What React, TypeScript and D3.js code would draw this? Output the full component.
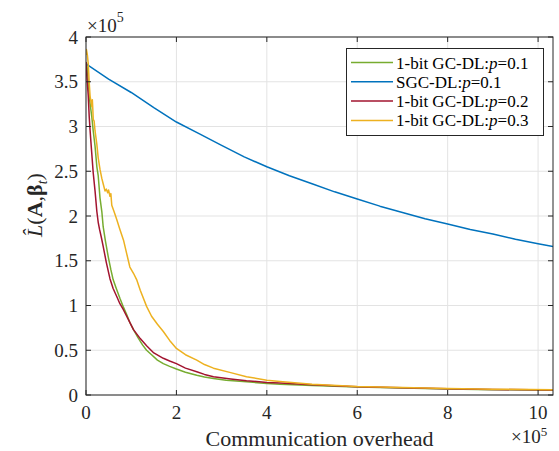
import React from "react";
import * as d3 from "d3";

// x in units of 1e5, y in units of 1e5
const xTicks = [0, 2, 4, 6, 8, 10];
const yTicks = [0, 0.5, 1, 1.5, 2, 2.5, 3, 3.5, 4];
const yTickLabels = ["0", "0.5", "1", "1.5", "2", "2.5", "3", "3.5", "4"];

const seriesNames = ["1-bit GC-DL:", "SGC-DL:", "1-bit GC-DL:", "1-bit GC-DL:"];
const seriesP = ["0.1", "0.1", "0.2", "0.3"];
const seriesColors = ["#77AC30", "#0072BD", "#A2142F", "#EDB120"];

const green: [number, number][] = [
  [0, 3.72], [0.02, 3.7], [0.05, 3.5], [0.08, 3.3], [0.1, 3.22], [0.13, 3.1], [0.16, 2.95], [0.2, 2.78],
  [0.24, 2.55], [0.27, 2.45], [0.31, 2.2], [0.35, 2.05], [0.38, 1.88], [0.43, 1.72], [0.49, 1.55],
  [0.55, 1.4], [0.6, 1.29], [0.67, 1.19], [0.75, 1.08], [0.82, 0.99], [0.9, 0.9], [0.97, 0.81],
  [1.05, 0.73], [1.15, 0.64], [1.25, 0.56], [1.34, 0.5], [1.45, 0.45], [1.58, 0.39], [1.71, 0.35],
  [1.85, 0.32], [2.0, 0.29], [2.2, 0.255], [2.45, 0.22], [2.62, 0.2], [2.82, 0.185], [3.1, 0.165],
  [3.55, 0.148], [4.0, 0.128], [4.29, 0.12], [5, 0.105], [6, 0.088], [7, 0.077], [8, 0.068],
  [9, 0.06], [10.33, 0.052],
];

const blue: [number, number][] = [
  [0, 3.7], [0.5, 3.53], [1, 3.38], [1.5, 3.21], [2, 3.05], [2.5, 2.92], [3, 2.79], [3.5, 2.66],
  [4, 2.55], [4.5, 2.45], [5, 2.36], [5.5, 2.27], [6, 2.19], [6.5, 2.11], [7, 2.04], [7.5, 1.97],
  [8, 1.91], [8.5, 1.85], [9, 1.8], [9.5, 1.74], [10, 1.69], [10.33, 1.66],
];

const red: [number, number][] = [
  [0, 3.72], [0.02, 3.55], [0.05, 3.34], [0.07, 3.12], [0.09, 2.96], [0.12, 2.75], [0.16, 2.48],
  [0.2, 2.28], [0.24, 2.05], [0.27, 1.93], [0.3, 1.85], [0.34, 1.76], [0.38, 1.66], [0.45, 1.48],
  [0.53, 1.3], [0.6, 1.19], [0.68, 1.1], [0.75, 1.02], [0.83, 0.95], [0.93, 0.85], [1.05, 0.73],
  [1.2, 0.63], [1.34, 0.55], [1.5, 0.47], [1.71, 0.41], [1.85, 0.38], [2.0, 0.35], [2.2, 0.3],
  [2.45, 0.26], [2.62, 0.23], [2.82, 0.205], [3.2, 0.18], [3.55, 0.16], [4.0, 0.14], [4.29, 0.135],
  [5, 0.115], [6, 0.092], [7, 0.08], [8, 0.07], [9, 0.062], [10.33, 0.055],
];

const yellow: [number, number][] = [
  [0, 3.8], [0.01, 3.86], [0.03, 3.8], [0.05, 3.7], [0.07, 3.5], [0.09, 3.34], [0.11, 3.28],
  [0.13, 3.22], [0.14, 3.3], [0.15, 3.2], [0.16, 3.08], [0.18, 3.06], [0.2, 2.95], [0.24, 2.8],
  [0.27, 2.65], [0.31, 2.52], [0.35, 2.42], [0.38, 2.36], [0.42, 2.28], [0.45, 2.3], [0.48, 2.26],
  [0.5, 2.29], [0.53, 2.22], [0.55, 2.25], [0.57, 2.12], [0.62, 2.05], [0.68, 1.96], [0.75, 1.85],
  [0.83, 1.73], [0.9, 1.58], [0.97, 1.43], [1.05, 1.36], [1.12, 1.29], [1.2, 1.17], [1.34, 0.99],
  [1.45, 0.88], [1.58, 0.79], [1.71, 0.71], [1.85, 0.61], [2.0, 0.52], [2.2, 0.45], [2.45, 0.39],
  [2.62, 0.34], [2.82, 0.3], [3.2, 0.25], [3.55, 0.205], [4.0, 0.165], [4.29, 0.15], [5, 0.12],
  [6, 0.095], [7, 0.083], [8, 0.073], [9, 0.065], [10.33, 0.058],
];

const allSeries = [green, blue, red, yellow];

const W = 559;
const H = 451;
const L = 86, R = 553, T = 37, B = 395;
const FONT = "'Liberation Serif', 'Times New Roman', serif";
const AX = "#262626";

export default function App() {
  const x = d3.scaleLinear().domain([0, 10.33]).range([L, R]);
  const y = d3.scaleLinear().domain([0, 4]).range([B, T]);
  const line = d3.line<[number, number]>().x((d) => x(d[0])).y((d) => y(d[1]));
  const tl = 5;

  return (
    <svg width={W} height={H} style={{ position: "absolute", left: 0, top: 0, background: "#fff" }}
      fontFamily={FONT}>
      <rect x={0} y={0} width={W} height={H} fill="#fff" />
      {/* grid */}
      {xTicks.map((t) => (
        <line key={"gx" + t} x1={x(t)} x2={x(t)} y1={T} y2={B} stroke="#e3e3e3" strokeWidth={1} />
      ))}
      {yTicks.map((t) => (
        <line key={"gy" + t} x1={L} x2={R} y1={y(t)} y2={y(t)} stroke="#e3e3e3" strokeWidth={1} />
      ))}
      {/* series */}
      <g clipPath="url(#clip)">
        {allSeries.map((s, i) => (
          <path key={"s" + i} d={line(s) || ""} fill="none" stroke={seriesColors[i]} strokeWidth={1.5}
            strokeLinejoin="round" />
        ))}
      </g>
      <defs>
        <clipPath id="clip">
          <rect x={L} y={T} width={R - L} height={B - T} />
        </clipPath>
      </defs>
      {/* box */}
      <rect x={L} y={T} width={R - L} height={B - T} fill="none" stroke={AX} strokeWidth={1} />
      {/* ticks */}
      {xTicks.map((t) => (
        <g key={"tx" + t}>
          <line x1={x(t)} x2={x(t)} y1={B} y2={B - tl} stroke={AX} />
          <line x1={x(t)} x2={x(t)} y1={T} y2={T + tl} stroke={AX} />
          <text x={x(t)} y={419} textAnchor="middle" fontSize={19} fill={AX}>{t}</text>
        </g>
      ))}
      {yTicks.map((t, i) => (
        <g key={"ty" + t}>
          <line x1={L} x2={L + tl} y1={y(t)} y2={y(t)} stroke={AX} />
          <line x1={R} x2={R - tl} y1={y(t)} y2={y(t)} stroke={AX} />
          <text x={78} y={y(t) + 6.5} textAnchor="end" fontSize={19} fill={AX}>{yTickLabels[i]}</text>
        </g>
      ))}
      {/* exponent labels */}
      <text x={87} y={32} fontSize={19} fill={AX}>
        ×10<tspan dy={-10} fontSize={14}>5</tspan>
      </text>
      <text x={511} y={443} fontSize={19} fill={AX}>
        ×10<tspan dy={-7} fontSize={13}>5</tspan>
      </text>
      {/* x label */}
      <text x={(L + R) / 2} y={446} textAnchor="middle" fontSize={22} fill={AX}>Communication overhead</text>
      {/* y label */}
      <text transform={`translate(42, 205) rotate(-90)`} textAnchor="middle" fontSize={22} fill={AX}>
        <tspan fontStyle="italic">L̂</tspan>
        <tspan>(</tspan>
        <tspan fontWeight="bold">A</tspan>
        <tspan>,</tspan>
        <tspan fontWeight="bold">β</tspan>
        <tspan fontStyle="italic" fontSize={14} dy={5}>t</tspan>
        <tspan dy={-5}>)</tspan>
      </text>
      {/* legend */}
      <rect x={346.5} y={48.5} width={197} height={87} fill="#fff" stroke={AX} strokeWidth={1} />
      {seriesNames.map((n, i) => {
        const yy = 62.5 + i * 19.3;
        return (
          <g key={"lg" + i}>
            <line x1={351} x2={393} y1={yy} y2={yy} stroke={seriesColors[i]} strokeWidth={1.5} />
            <text x={396} y={yy + 6} fontSize={17} fill="#000">
              {n}<tspan fontStyle="italic">p</tspan>=
              {seriesP[i]}
            </text>
          </g>
        );
      })}
    </svg>
  );
}
